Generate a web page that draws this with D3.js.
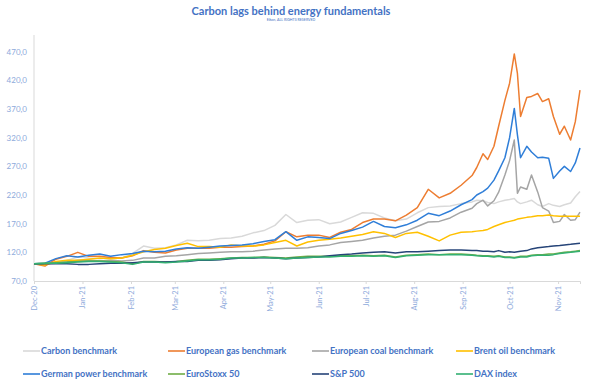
<html>
<head>
<meta charset="utf-8" />
<script src="https://cdn.jsdelivr.net/npm/d3@7"></script>
<style>
body { margin: 0; background: #fff; }
text { font-family: Lato, "Open Sans", sans-serif; }
.axis path, .axis line { stroke: #d9d9d9; }
.axis text { fill: #8eaadb; }
</style>
</head>
<body>
<svg id="chart" width="590" height="385"></svg>
<script>

var dates = ["2020-12-01","2020-12-08","2020-12-15","2020-12-22","2020-12-29",
  "2021-01-05","2021-01-12","2021-01-19","2021-01-26","2021-02-02","2021-02-09","2021-02-16","2021-02-23",
  "2021-03-02","2021-03-09","2021-03-16","2021-03-23","2021-03-30","2021-04-06","2021-04-13","2021-04-20","2021-04-27",
  "2021-05-04","2021-05-11","2021-05-18","2021-05-25","2021-06-01","2021-06-08","2021-06-15","2021-06-22","2021-06-29",
  "2021-07-06","2021-07-13","2021-07-20","2021-07-27","2021-08-03","2021-08-10","2021-08-17","2021-08-24","2021-08-31",
  "2021-09-07","2021-09-10","2021-09-14","2021-09-17","2021-09-21","2021-09-24","2021-09-28",
  "2021-10-01","2021-10-04","2021-10-06","2021-10-08","2021-10-12","2021-10-15","2021-10-19","2021-10-22","2021-10-26","2021-10-29",
  "2021-11-02","2021-11-05","2021-11-09","2021-11-12","2021-11-15"];

var carbon = [100,99,102,106,112,110,109,111,110,118,131,127,128,133,141,140,141,144,145,148,154,158,
  167,186,172,176,177,170,173,181,189,188,180,175,178,189,198,200,201,205,
  208,211,210,207,205,208,211,212,214,208,205,208,211,203,200,205,202,200,203,206,217,226];
var gas = [100,96,108,113,120,113,113,111,110,114,123,120,119,124,127,127,127,129,129,130,131,134,
  140,156,147,150,150,146,155,160,172,178,178,175,185,198,230,215,223,237,
  254,268,292,282,305,340,385,415,466,432,357,390,392,397,383,388,357,326,340,316,348,403];
var coal = [100,100,101,103,106,106,105,106,105,106,110,110,113,114,116,118,119,120,121,121,122,124,
  126,127,127,128,131,133,137,139,141,145,148,150,157,165,173,174,180,190,
  197,205,211,201,210,225,255,280,316,223,234,230,255,225,198,192,172,174,186,176,177,190];
var brent = [100,98,104,106,106,108,110,109,110,115,121,125,127,132,136,130,130,129,133,131,131,133,
  137,141,131,138,141,143,145,148,151,156,153,146,153,155,148,140,150,155,
  156,157,158,160,165,168,172,174,176,178,179,181,182,184,184,185,184,183,183,183,183,183];
var power = [100,101,109,114,112,115,117,113,116,118,122,121,122,126,128,127,129,131,132,133,135,139,
  142,156,141,147,146,144,153,158,164,174,165,163,168,176,188,184,192,203,
  212,220,226,232,246,262,285,320,371,325,285,305,295,285,286,284,249,262,270,261,276,302];
var eurostoxx = [100,101,102,103,104,105,105,104,103,100,104,104,103,104,106,108,108,109,110,111,111,112,
  111,110,112,113,113,113,114,114,115,114,115,112,115,116,117,116,117,117,
  116,115,114,114,113,114,112,112,111,112,113,113,115,116,116,117,117,119,120,121,122,123];
var sp500 = [100,100,100,100,99,99,100,101,101,102,103,103,103,104,104,106,106,107,109,110,110,111,
  110,109,110,111,112,114,116,117,119,120,121,119,121,121,122,123,124,124,
  123,123,122,122,121,123,120,121,120,121,122,123,126,128,129,130,131,132,133,134,135,136];
var dax = [100,101,101,102,103,104,104,103,102,99,103,103,102,103,105,107,107,108,110,110,111,111,
  110,109,110,111,112,112,113,113,114,113,114,111,114,115,116,116,116,116,
  115,114,113,113,112,113,111,111,110,111,112,112,114,115,115,115,116,118,119,120,121,122];

var seriesNames = ["Carbon benchmark","European gas benchmark","European coal benchmark","Brent oil benchmark",
  "German power benchmark","EuroStoxx 50","S&P 500","DAX index"];
var seriesValues = [carbon, gas, coal, brent, power, eurostoxx, sp500, dax];
var colors = ["#d9d9d9","#ed7d31","#a5a5a5","#ffc000","#2f7ed8","#70ad47","#264478","#33b072"];
var yTicks = [70,120,170,220,270,320,370,420,470];

var parse = d3.timeParse("%Y-%m-%d");
var time = dates.map(parse);

var svg = d3.select("#chart");

var x = d3.scaleTime()
    .domain([parse("2020-12-01"), parse("2021-11-15")])
    .range([34, 580]);

var y = d3.scaleLinear()
    .domain([70, 470])
    .range([281, 51.7]);

// title
svg.append("text")
    .attr("x", 291).attr("y", 15)
    .attr("text-anchor", "middle")
    .attr("fill", "#4472c4")
    .attr("font-weight", "bold")
    .attr("font-size", "11px")
    .text("Carbon lags behind energy fundamentals");

svg.append("text")
    .attr("x", 291).attr("y", 20.5)
    .attr("text-anchor", "middle")
    .attr("fill", "#4472c4")
    .attr("font-size", "3.6px")
    .text("Eikon, ALL RIGHTS RESERVED");

// axes
var yAxis = svg.append("g")
    .attr("class", "axis")
    .attr("transform", "translate(34,0)")
    .call(d3.axisLeft(y).tickValues(yTicks).tickSize(0).tickPadding(7)
      .tickFormat(function(d) { return d3.format(".1f")(d).replace(".", ","); }));
yAxis.select(".domain").attr("d", "M0," + y(70) + "V35");
yAxis.selectAll("text").attr("font-size", "8px");

var xAxis = svg.append("g")
    .attr("class", "axis")
    .attr("transform", "translate(0," + y(70) + ")")
    .call(d3.axisBottom(x).ticks(d3.timeMonth.every(1)).tickSizeOuter(0).tickSize(3)
      .tickFormat(d3.timeFormat("%b-%y")));
xAxis.selectAll("text")
    .attr("font-size", "7.5px")
    .attr("transform", "rotate(-90)")
    .attr("text-anchor", "end")
    .attr("x", -5).attr("y", 0)
    .attr("dy", "0.32em");

// lines
var line = d3.line()
    .x(function(d, i) { return x(time[i]); })
    .y(function(d) { return y(d); });

svg.append("g").selectAll("path")
    .data(seriesValues)
    .join("path")
    .attr("fill", "none")
    .attr("stroke", function(d, i) { return colors[i]; })
    .attr("stroke-width", 1.5)
    .attr("stroke-linejoin", "round")
    .attr("d", line);

// legend
var legX = [23, 168, 312, 456];
var legY = [351, 374];
var legend = svg.append("g").selectAll("g")
    .data(seriesNames)
    .join("g")
    .attr("transform", function(d, i) { return "translate(" + legX[i % 4] + "," + legY[Math.floor(i / 4)] + ")"; });
legend.append("line")
    .attr("x1", 0).attr("x2", 17)
    .attr("stroke", function(d, i) { return colors[i]; })
    .attr("stroke-width", 1.6);
legend.append("text")
    .attr("x", 18).attr("dy", "0.35em")
    .attr("fill", "#4472c4")
    .attr("font-weight", "bold")
    .attr("font-size", "9px")
    .text(function(d) { return d; });

</script>
</body>
</html>
